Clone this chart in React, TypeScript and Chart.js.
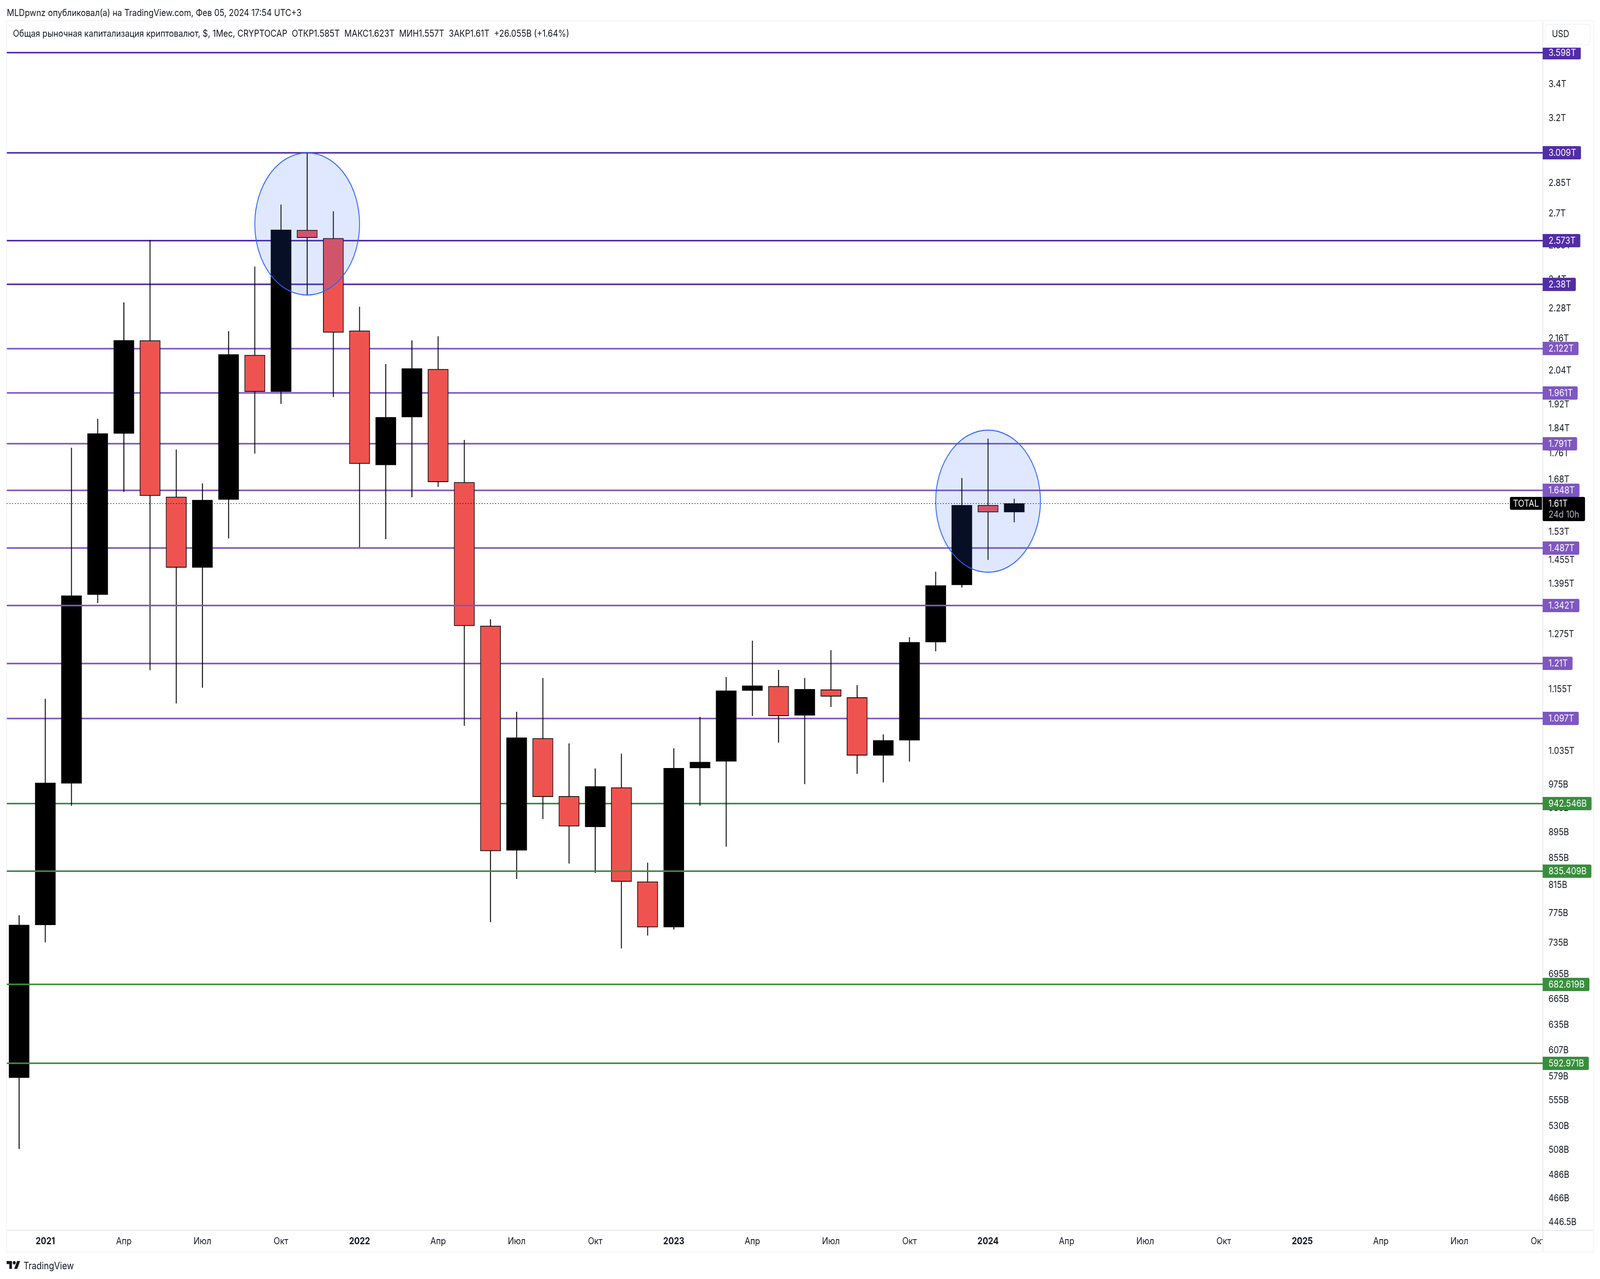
import React, { useEffect, useRef } from "react";
import { Chart, registerables } from "chart.js";

Chart.register(...registerables);

// monthly candles of TOTAL, in billions of dollars, Dec 2020 .. Feb 2024
const opens = [578, 759, 977, 1368, 1824, 2153, 1629, 1436, 1621, 2098, 1965, 2622, 2584, 2191, 1724, 1878, 2046, 1672, 1294, 867, 1059, 955, 904, 970, 820, 756, 1004, 1016, 1153, 1162, 1103, 1155, 1139, 1027, 1055, 1257, 1392, 1605, 1585];
const highs = [772, 1136, 1778, 1872, 2304, 2575, 1772, 1668, 2189, 2456, 2743, 3009, 2711, 2286, 2064, 2153, 2169, 1803, 1309, 1110, 1179, 1049, 1003, 1030, 848, 1040, 1100, 1181, 1260, 1196, 1179, 1239, 1164, 1066, 1268, 1425, 1684, 1807, 1623];
const lows = [509, 736, 939, 1348, 1644, 1196, 1127, 1159, 1513, 1760, 1923, 2335, 1947, 1489, 1511, 1628, 1659, 1083, 763, 824, 917, 847, 833, 728, 745, 753, 939, 873, 1102, 1051, 976, 1120, 994, 979, 1016, 1237, 1386, 1456, 1557];
const closes = [759, 978, 1366, 1824, 2154, 1632, 1436, 1620, 2100, 1965, 2623, 2586, 2184, 1728, 1878, 2048, 1673, 1294, 866, 1060, 954, 905, 972, 820, 756, 1004, 1015, 1153, 1163, 1102, 1156, 1141, 1027, 1055, 1257, 1391, 1605, 1585, 1610];

// horizontal levels drawn by the author
const levels = [3598, 3009, 2573, 2380, 2122, 1961, 1791, 1648, 1487, 1342, 1210, 1097, 942.546, 835.409, 682.619, 592.971];
const levelsOverCandles = [1342, 835.409, 682.619, 592.971];

// ellipses: centre candle, top and bottom price
const ellipseCandles = [11, 37];
const ellipseTops = [3009, 1835];
const ellipseBottoms = [2335, 1424];

const priceTicks = [3400, 3200, 2850, 2700, 2550, 2400, 2280, 2160, 2040, 1920, 1840, 1760, 1680, 1530, 1455, 1395, 1275, 1215, 1155, 1035, 975, 935, 895, 855, 815, 775, 735, 695, 665, 635, 607, 579, 555, 530, 508, 486, 466, 446.5];
const monthTicks = [1, 4, 7, 10, 13, 16, 19, 22, 25, 28, 31, 34, 37, 40, 43, 46, 49, 52, 55, 58];
const monthLabels = ["2021", "Апр", "Июл", "Окт", "2022", "Апр", "Июл", "Окт", "2023", "Апр", "Июл", "Окт", "2024", "Апр", "Июл", "Окт", "2025", "Апр", "Июл", "Окт"];

const title = "MLDpwnz опубликовал(а) на TradingView.com, Фев 05, 2024 17:54 UTC+3";
const legend = "Общая рыночная капитализация криптовалют, $, 1Мес, CRYPTOCAP  ОТКР1.585T  МАКС1.623T  МИН1.557T  ЗАКР1.61T  +26.055B (+1.64%)";

const FONT = "Inter, 'Liberation Sans', sans-serif";
const INK = "#131722";
const PAGE_W = 4690;
const PAGE_H = 3274;
const xMin = -0.469;
const xMax = 58.18;
const yMin = 440.3;
const yMax = 3806.6;

const priceText = (v: number) => (v >= 1000 ? v / 1000 + "T" : v + "B");
const levelColor = (v: number) => (v >= 2380 ? "#512da8" : v >= 1000 ? "#7e57c2" : "#388e3c");

const levelDataset = (v: number, order: number) => ({
    type: "line",
    data: [{ x: xMin, y: v }, { x: xMax, y: v }],
    borderColor: levelColor(v),
    borderWidth: 4,
    pointRadius: 0,
    order,
});

const paneChrome = {
    id: "paneChrome",
    beforeDatasetsDraw(chart: any) {
        const { ctx, chartArea: a } = chart;
        ctx.save();
        // the price axis column covers whatever the time axis lets stick out
        ctx.fillStyle = "#ffffff";
        ctx.fillRect(a.right, a.bottom, 148, 55);
        ctx.strokeStyle = "#f0f3fa";
        ctx.lineWidth = 2;
        ctx.strokeRect(a.left - 1, a.top - 1, a.right + 148 - a.left + 2, a.bottom + 55 - a.top + 2);
        ctx.strokeStyle = "#e0e3eb";
        ctx.beginPath();
        ctx.moveTo(a.left, a.bottom + 0.5);
        ctx.lineTo(a.right + 148, a.bottom + 0.5);
        ctx.moveTo(a.right + 0.5, a.top);
        ctx.lineTo(a.right + 0.5, a.bottom + 55);
        ctx.stroke();
        ctx.restore();
    },
};

const overlays = {
    id: "overlays",
    afterDatasetsDraw(chart: any) {
        const { ctx, chartArea: a } = chart;
        const x = chart.scales.x;
        const y = chart.scales.y;

        ctx.save();
        ellipseCandles.forEach((candle, i) => {
            const top = y.getPixelForValue(ellipseTops[i]);
            const bottom = y.getPixelForValue(ellipseBottoms[i]);
            const cx = x.getPixelForValue(candle);
            const rx = x.getPixelForValue(candle + 2) - cx;
            ctx.beginPath();
            ctx.ellipse(cx, (top + bottom) / 2, rx, (bottom - top) / 2, 0, 0, Math.PI * 2);
            ctx.fillStyle = "rgba(41,98,255,0.15)";
            ctx.fill();
            ctx.strokeStyle = "#2962ff";
            ctx.lineWidth = 2.5;
            ctx.stroke();
        });

        // last price line
        const lastY = Math.round(y.getPixelForValue(closes[closes.length - 1]));
        ctx.strokeStyle = "#000000";
        ctx.lineWidth = 2;
        ctx.setLineDash([2, 6]);
        ctx.beginPath();
        ctx.moveTo(a.left, lastY);
        ctx.lineTo(a.right - 96, lastY);
        ctx.stroke();
        ctx.restore();
    },
    afterDraw(chart: any) {
        const { ctx, chartArea: a } = chart;
        const y = chart.scales.y;
        const textX = a.right + 17;

        ctx.save();
        ctx.font = "24px " + FONT;
        ctx.textBaseline = "middle";
        ctx.textAlign = "left";

        // level tags on the price axis, clipped under the currency button
        ctx.save();
        ctx.beginPath();
        ctx.rect(a.right, 122, 148, a.bottom - 122);
        ctx.clip();
        levels.forEach((v) => {
            const py = Math.round(y.getPixelForValue(v));
            const label = priceText(v);
            ctx.fillStyle = levelColor(v);
            ctx.beginPath();
            ctx.roundRect(a.right, py - 17, ctx.measureText(label).width + 31, 34, [0, 4, 4, 0]);
            ctx.fill();
            ctx.fillStyle = "#ffffff";
            ctx.fillText(label, textX, py + 1);
        });
        ctx.restore();

        // last price tag
        const lastY = Math.round(y.getPixelForValue(closes[closes.length - 1]));
        ctx.fillStyle = "#000000";
        ctx.beginPath();
        ctx.roundRect(a.right - 96, lastY - 17, 94, 33, [4, 0, 0, 4]);
        ctx.fill();
        ctx.beginPath();
        ctx.roundRect(a.right, lastY - 17, 124, 62, [0, 4, 4, 4]);
        ctx.fill();
        ctx.fillStyle = "#ffffff";
        ctx.textAlign = "center";
        ctx.fillText("TOTAL", a.right - 49, lastY + 1);
        ctx.textAlign = "left";
        ctx.fillText(priceText(closes[closes.length - 1]), textX, lastY + 1);
        ctx.fillStyle = "#b2b5be";
        ctx.fillText("24d 10h", textX, lastY + 29);

        // currency button
        ctx.strokeStyle = "#f0f3fa";
        ctx.lineWidth = 2;
        ctx.beginPath();
        ctx.roundRect(a.right + 7, 62, 132, 52, 8);
        ctx.stroke();
        ctx.fillStyle = INK;
        ctx.fillText("USD", a.right + 27, 88);
        ctx.restore();
    },
};

const App = () => {
    const canvasRef = useRef<HTMLCanvasElement>(null);

    // the browser may hand us a narrower window than the reference, so the whole page is fitted to it
    const fitX = window.innerWidth / PAGE_W;
    const fitY = window.innerHeight / PAGE_H;

    useEffect(() => {
        const candles = opens.map((_, k) => k);
        const isDown = (k: number) => closes[k] < opens[k];

        const chart = new Chart(canvasRef.current as HTMLCanvasElement, {
            type: "bar",
            data: {
                datasets: [
                    ...levels.filter((v) => !levelsOverCandles.includes(v)).map((v) => levelDataset(v, 4)),
                    {
                        data: candles.map((k) => ({ x: k, y: [lows[k], highs[k]] })),
                        backgroundColor: "#000000",
                        barThickness: 2,
                        grouped: false,
                        order: 3,
                    },
                    {
                        data: candles.map((k) => ({ x: k, y: [opens[k], closes[k]] })),
                        backgroundColor: (c: any) => (isDown(c.dataIndex) ? "#ef5350" : "#000000"),
                        borderColor: "#000000",
                        borderWidth: 2,
                        borderSkipped: false,
                        barThickness: 60,
                        grouped: false,
                        order: 2,
                    },
                    ...levelsOverCandles.map((v) => levelDataset(v, 1)),
                ] as any,
            },
            options: {
                animation: false,
                responsive: false,
                devicePixelRatio: 1,
                layout: { padding: { left: 20, top: 54, right: 20, bottom: 70 } },
                plugins: { legend: { display: false }, title: { display: false }, tooltip: { enabled: false } },
                scales: {
                    x: {
                        type: "linear",
                        min: xMin,
                        max: xMax,
                        offset: false,
                        grid: { display: false, drawTicks: false },
                        border: { display: false },
                        afterFit: (s: any) => { s.height = 55; },
                        afterBuildTicks: (s: any) => { s.ticks = monthTicks.map((value) => ({ value })); },
                        ticks: {
                            autoSkip: false,
                            maxRotation: 0,
                            padding: 14,
                            color: INK,
                            font: (c: any) => ({ family: FONT, size: 24, weight: c.index % 4 === 0 ? "bold" : "normal" }),
                            callback: (value: any) => monthLabels[monthTicks.indexOf(value)],
                        },
                    },
                    y: {
                        type: "logarithmic",
                        position: "right",
                        min: yMin,
                        max: yMax,
                        bounds: "data",
                        grid: { display: false, drawTicks: false },
                        border: { display: false },
                        afterFit: (s: any) => { s.width = 148; },
                        afterBuildTicks: (s: any) => { s.ticks = priceTicks.map((value) => ({ value })); },
                        ticks: {
                            autoSkip: false,
                            padding: 17,
                            color: INK,
                            font: { family: FONT, size: 24 },
                            callback: (value: any) => priceText(value),
                        },
                    },
                } as any,
            },
            plugins: [paneChrome, overlays],
        });

        return () => { chart.destroy(); };
    }, []);

    return (
        <div style={{ position: "absolute", left: 0, top: 0, width: PAGE_W, height: PAGE_H, background: "#ffffff", fontFamily: FONT, color: INK, overflow: "hidden", transform: `scale(${fitX}, ${fitY})`, transformOrigin: "0 0" }}>
            <canvas ref={canvasRef} width={PAGE_W} height={PAGE_H} style={{ display: "block", width: PAGE_W, height: PAGE_H }}></canvas>
            <div style={{ position: "absolute", left: 20, top: 18, fontSize: 24, lineHeight: "30px", whiteSpace: "pre" }}>{title}</div>
            <div style={{ position: "absolute", left: 38, top: 71, fontSize: 24, lineHeight: "30px", whiteSpace: "pre" }}>{legend}</div>
            <svg viewBox="0 4 36 18" style={{ position: "absolute", left: 19, top: 3228, width: 41, height: 20 }}>
                <path d="M14 22H7V11H0V4h14v18zM28 22h-8l7.5-18h8L28 22z" fill="#131722"></path>
                <circle cx="20" cy="8" r="4" fill="#131722"></circle>
            </svg>
            <div style={{ position: "absolute", left: 69, top: 3222, fontSize: 25, lineHeight: "36px", fontWeight: 400, whiteSpace: "pre" }}>TradingView</div>
        </div>
    );
};

export default App;
